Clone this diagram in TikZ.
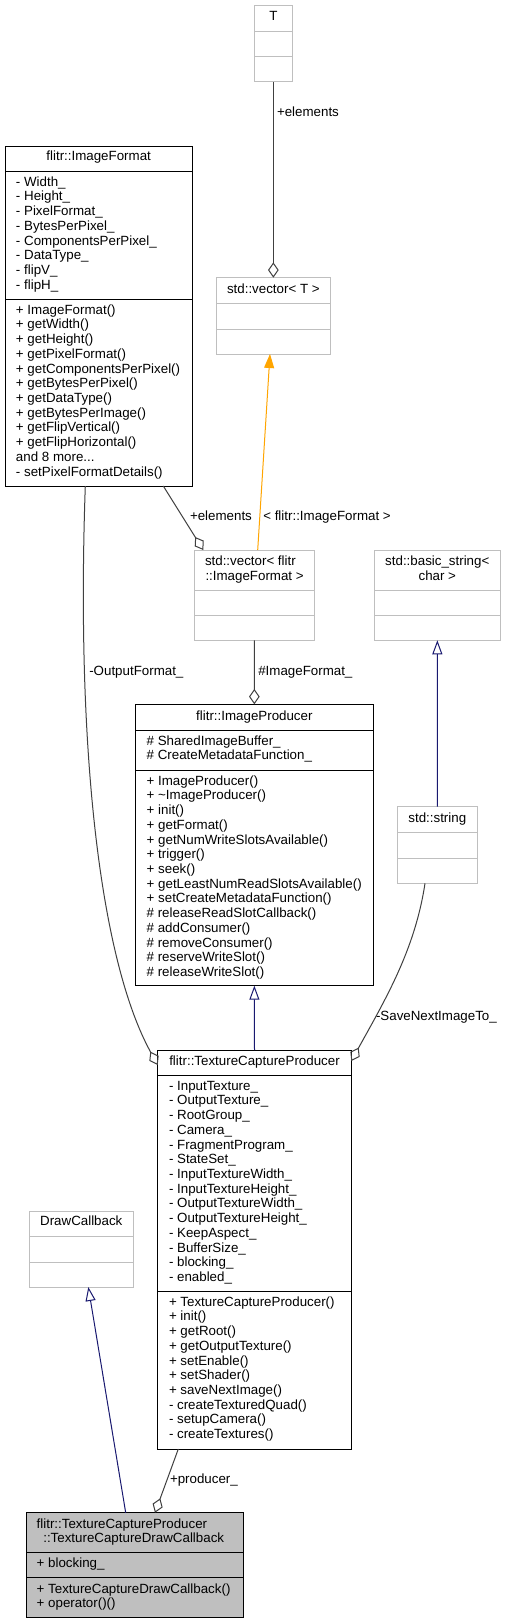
\documentclass[tikz,border=0pt]{standalone}
\usepackage{fontspec}
\setmainfont{Liberation Sans}
\usetikzlibrary{arrows.meta,fit,calc}
\definecolor{edgec}{RGB}{64,64,64}
\definecolor{boxgray}{RGB}{191,191,191}
\definecolor{navyc}{RGB}{25,25,112}
\definecolor{orangec}{RGB}{255,165,0}
\newcommand\umlbox[6]{\node[#6, fit={(#2,#3) (#4,#5)}] (#1) {};}
\newcommand\umlsep[4]{\draw[#4] (#1,#3) -- (#2,#3);}
\newcommand\rowsat[4]{\foreach \t [count=\i from 0] in {#4} {\node[txt, anchor=base west] (#1-\i) at (#2, {#3+14.72*\i+3.5}) {\t};}}
\begin{document}
\begin{tikzpicture}[x=0.75pt,y=-0.75pt,
  txt/.style={inner sep=0pt, outer sep=0pt, font=\fontsize{10}{12}\selectfont},
  ctitle/.style={txt, anchor=base},
  lbl/.style={txt, anchor=base west},
  blackbox/.style={draw=black, line width=0.75pt, inner sep=0pt, outer sep=0pt},
  graybox/.style={draw=boxgray, line width=0.75pt, inner sep=0pt, outer sep=0pt},
  selbox/.style={blackbox, fill=boxgray},
  bsep/.style={draw=black, line width=0.75pt},
  gsep/.style={draw=boxgray, line width=0.75pt},
  edge/.style={draw=edgec, line width=0.75pt},
  agg/.style={edge, {Diamond[open,length=11.5pt,width=8pt]}-},
  inh/.style={draw=navyc, line width=0.75pt, -{Triangle[open,length=10.5pt,width=7.5pt]}},
  tmpl/.style={draw=orangec, line width=0.75pt, -{Triangle[length=10.5pt,width=7.5pt]}}
]
\fill[white] (0,0) rectangle (506,1624);
\useasboundingbox (0,0) rectangle (506,1624);

% T
\umlbox{T}{254}{5.7}{292.7}{81.7}{graybox}
\umlsep{254}{292.7}{31.7}{gsep}
\umlsep{254}{292.7}{56.7}{gsep}
\node[ctitle] (T-t) at (273.35,20.8) {T};

% std::vector< T >
\umlbox{vecT}{216}{277.7}{330.7}{354}{graybox}
\umlsep{216}{330.7}{303.3}{gsep}
\umlsep{216}{330.7}{329}{gsep}
\node[ctitle] (vecT-t) at (273.35,293.5) {std::vector< T >};

% flitr::ImageFormat
\umlbox{imgfmt}{5}{146}{192.3}{486}{blackbox}
\umlsep{5}{192.3}{171.3}{bsep}
\umlsep{5}{192.3}{299.3}{bsep}
\node[ctitle] (imgfmt-t) at (98.65,160.8) {flitr::ImageFormat};
\rowsat{ifa}{16}{182.7}{- Width\_, - Height\_, - PixelFormat\_, - BytesPerPixel\_, - ComponentsPerPixel\_, - DataType\_, - flipV\_, - flipH\_}
\rowsat{ifm}{16}{310.7}{+ ImageFormat(), + getWidth(), + getHeight(), + getPixelFormat(), + getComponentsPerPixel(), + getBytesPerPixel(), + getDataType(), + getBytesPerImage(), + getFlipVertical(), + getFlipHorizontal(), {and 8 more.{}.{}.}, - setPixelFormatDetails()}

% std::vector< flitr::ImageFormat >
\umlbox{vecIF}{194.3}{550}{314.3}{640.3}{graybox}
\umlsep{194.3}{314.3}{590}{gsep}
\umlsep{194.3}{314.3}{615.3}{gsep}
\node[lbl] (vecIF-t1) at (205,565.2) {std::vector< flitr};
\node[lbl] (vecIF-t2) at (205.5,580.2) {::ImageFormat >};

% std::basic_string< char >
\umlbox{bstr}{374}{550}{500.7}{640.3}{graybox}
\umlsep{374}{500.7}{590}{gsep}
\umlsep{374}{500.7}{615.3}{gsep}
\node[ctitle] (bstr-t1) at (437.3,565.2) {std::basic\_string<};
\node[ctitle] (bstr-t2) at (437.3,580.2) {char >};

% std::string
\umlbox{str}{397.3}{806.7}{477.3}{883.3}{graybox}
\umlsep{397.3}{477.3}{832.7}{gsep}
\umlsep{397.3}{477.3}{858.3}{gsep}
\node[ctitle] (str-t) at (437.3,822.5) {std::string};

% flitr::ImageProducer
\umlbox{ip}{135.7}{704.3}{373}{985.7}{blackbox}
\umlsep{135.7}{373}{730}{bsep}
\umlsep{135.7}{373}{770}{bsep}
\node[ctitle] (ip-t) at (254.35,720.2) {flitr::ImageProducer};
\rowsat{ipa}{146.7}{741.7}{\# SharedImageBuffer\_, \# CreateMetadataFunction\_}
\rowsat{ipm}{146.7}{781.7}{+ ImageProducer(), + \textasciitilde{}ImageProducer(), + init(), + getFormat(), + getNumWriteSlotsAvailable(), + trigger(), + seek(), + getLeastNumReadSlotsAvailable(), + setCreateMetadataFunction(), \# releaseReadSlotCallback(), \# addConsumer(), \# removeConsumer(), \# reserveWriteSlot(), \# releaseWriteSlot()}

% flitr::TextureCaptureProducer
\umlbox{tcp}{157.7}{1050}{351.3}{1449}{blackbox}
\umlsep{157.7}{351.3}{1075}{bsep}
\umlsep{157.7}{351.3}{1291}{bsep}
\node[ctitle] (tcp-t) at (254.5,1065.2) {flitr::TextureCaptureProducer};
\rowsat{tcpa}{169}{1086.7}{- InputTexture\_, - OutputTexture\_, - RootGroup\_, - Camera\_, - FragmentProgram\_, - StateSet\_, - InputTextureWidth\_, - InputTextureHeight\_, - OutputTextureWidth\_, - OutputTextureHeight\_, - KeepAspect\_, - BufferSize\_, - blocking\_, - enabled\_}
\rowsat{tcpm}{169}{1302.7}{+ TextureCaptureProducer(), + init(), + getRoot(), + getOutputTexture(), + setEnable(), + setShader(), + saveNextImage(), - createTexturedQuad(), - setupCamera(), - createTextures()}

% DrawCallback
\umlbox{dc}{29.3}{1211}{133.3}{1287}{graybox}
\umlsep{29.3}{133.3}{1236.7}{gsep}
\umlsep{29.3}{133.3}{1262}{gsep}
\node[ctitle] (dc-t) at (81.3,1225.5) {DrawCallback};

% flitr::TextureCaptureProducer::TextureCaptureDrawCallback
\umlbox{dcb}{26}{1512.7}{243.3}{1617.7}{selbox}
\umlsep{26}{243.3}{1552.7}{bsep}
\umlsep{26}{243.3}{1577.7}{bsep}
\node[lbl] (dcb-t1) at (36.7,1528.3) {flitr::TextureCaptureProducer};
\node[lbl] (dcb-t2) at (43.3,1542.3) {::TextureCaptureDrawCallback};
\node[lbl] (dcb-a) at (36.7,1567.8) {+ blocking\_};
\node[lbl] (dcb-m1) at (36.7,1593.5) {+ TextureCaptureDrawCallback()};
\node[lbl] (dcb-m2) at (36.7,1607.8) {+ operator()()};

% connectors
\draw[agg] (vecT.north) -- (T.south);
\node[lbl] (l-el1) at (277,116.2) {+elements};

\draw[tmpl] ($(vecIF.north)+(3.4,0)$) -- ($(vecT.south)+(-3.35,0)$);
\node[lbl] (l-tmpl) at (263.3,520.2) {< flitr::ImageFormat >};

\draw[agg] ($(vecIF.north west)+(9,0)$) -- ($(imgfmt.south west)+(158.3,0)$);
\node[lbl] (l-el2) at (190,520.2) {+elements};

\draw[agg] (ip.north) -- (vecIF.south);
\node[lbl] (l-if) at (258.3,675.2) {\#ImageFormat\_};

\draw[inh] (str.north) -- (bstr.south);

\draw[agg] ($(tcp.north west)+(0,15)$) .. controls (100,960) and (76,750) .. ($(imgfmt.south west)+(80.3,0)$);
\node[lbl] (l-of) at (89.3,675.2) {-OutputFormat\_};

\draw[agg] ($(tcp.north east)+(0,11)$) .. controls (385,1000) and (415,950) .. ($(str.south)+(-12.3,0)$);
\node[lbl] (l-sn) at (376,1020.2) {-SaveNextImageTo\_};

\draw[inh] (tcp.north) -- (ip.south);

\draw[inh] ($(dcb.north west)+(99.7,0)$) -- ($(dc.south)+(7,0)$);

\draw[agg] ($(dcb.north west)+(129,0)$) -- ($(tcp.south west)+(20.6,0)$);
\node[lbl] (l-pr) at (170,1483.5) {+producer\_};
\end{tikzpicture}
\end{document}
